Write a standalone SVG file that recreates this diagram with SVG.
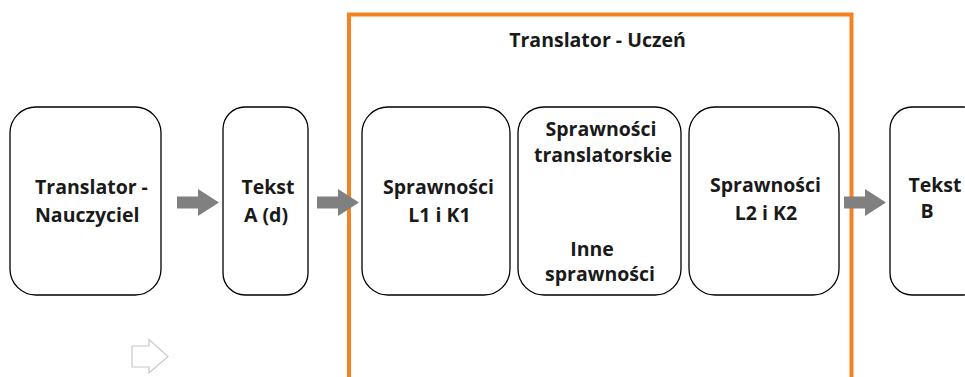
<svg xmlns="http://www.w3.org/2000/svg" width="965" height="377" viewBox="0 0 965 377">
<style>
.box{fill:#fff;stroke:#000;stroke-width:1.3}
.t{font-family:"Open Sans","Liberation Sans",sans-serif;font-weight:bold;font-size:19.5px;fill:#1a1a1a;text-anchor:middle}
.s{text-anchor:start}
.arr{fill:#808080}
</style>
<rect width="965" height="377" fill="#fff"/>
<g id="frame">
<path d="M349 382 V14.5 H851.5 V382" fill="none" stroke="#f58220" stroke-width="4"/>
<text class="t" x="597.5" y="47">Translator - Uczeń</text>
</g>
<g id="n1"><rect class="box" x="10" y="107" width="151" height="188" rx="26"/>
<text class="t s" x="35" y="194">Translator -</text><text class="t s" x="35" y="222">Nauczyciel</text></g>
<g id="n2"><rect class="box" x="223" y="107" width="85" height="188" rx="22"/>
<text class="t" x="268" y="194">Tekst</text><text class="t" x="266" y="222">A (d)</text></g>
<g id="n3"><rect class="box" x="362" y="107" width="148" height="188" rx="26"/>
<text class="t" x="438.5" y="194">Sprawności</text><text class="t" x="439.5" y="222">L1 i K1</text></g>
<g id="n4"><rect class="box" x="518" y="107" width="163" height="188" rx="26"/>
<text class="t" x="601" y="136">Sprawności</text><text class="t" x="603" y="162">translatorskie</text>
<text class="t" x="592" y="256">Inne</text><text class="t" x="600" y="281">sprawności</text></g>
<g id="n5"><rect class="box" x="689" y="107" width="150" height="188" rx="26"/>
<text class="t" x="765.5" y="192">Sprawności</text><text class="t" x="766" y="220">L2 i K2</text></g>
<g id="n6"><rect class="box" x="890" y="107" width="95" height="188" rx="22"/>
<text class="t" x="935" y="192">Tekst</text><text class="t" x="927" y="218">B</text></g>
<g id="connectors">
<path class="arr" d="M177 196.5 H198 V189 L219 202.5 L198 216 V208.5 H177 Z"/>
<path class="arr" d="M317 196.5 H338 V189 L359 202.5 L338 216 V208.5 H317 Z"/>
<path class="arr" d="M844 196.5 H865 V189 L886 202.5 L865 216 V208.5 H844 Z"/>
<path d="M132 346 H149 V339.5 L168 356.5 L149 373 V367 H132 Z" fill="none" stroke="#c8c8c8" stroke-width="1.2"/>
</g>
</svg>
